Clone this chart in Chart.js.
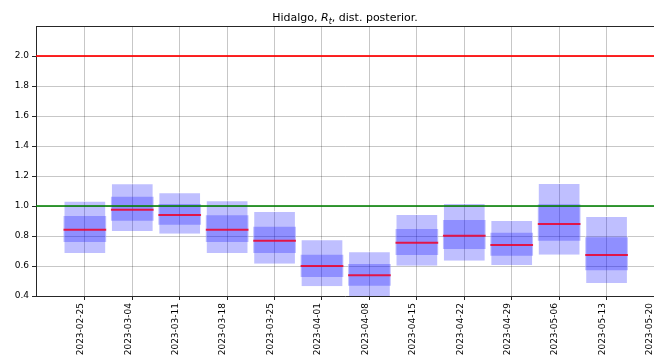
<!DOCTYPE html>
<html>
<head>
<meta charset="utf-8">
<script src="https://cdn.jsdelivr.net/npm/chart.js@4/dist/chart.umd.min.js"></script>
<style>
  html, body { margin: 0; padding: 0; background: #fff; overflow: hidden; }
  #wrap { position: relative; width: 654px; height: 356px; }
</style>
</head>
<body>
<div id="wrap"><canvas id="rt"></canvas></div>
<script>
// weekly Rt posterior summaries
const weekLabels = ['2023-02-25', '2023-03-04', '2023-03-11', '2023-03-18', '2023-03-25', '2023-04-01',
  '2023-04-08', '2023-04-15', '2023-04-22', '2023-04-29', '2023-05-06', '2023-05-13', '2023-05-20'];
const q05 = [0.687, 0.833, 0.815, 0.687, 0.615, 0.465, 0.397, 0.602, 0.635, 0.607, 0.675, 0.487];
const q25 = [0.760, 0.902, 0.875, 0.760, 0.687, 0.527, 0.468, 0.673, 0.713, 0.669, 0.769, 0.571];
const q50 = [0.842, 0.975, 0.940, 0.842, 0.769, 0.600, 0.538, 0.755, 0.802, 0.740, 0.880, 0.673];
const q75 = [0.933, 1.062, 1.013, 0.938, 0.862, 0.675, 0.613, 0.847, 0.907, 0.822, 1.011, 0.791];
const q95 = [1.035, 1.151, 1.091, 1.038, 0.967, 0.778, 0.698, 0.947, 1.020, 0.907, 1.153, 0.933];
const yTicks = [0.4, 0.6, 0.8, 1.0, 1.2, 1.4, 1.6, 1.8, 2.0];
const refRed = 2.0;
const refGreen = 1.0;

const xMin = -1.03;
const xMax = 12;
const medianHalf = 0.0065;

const font = { family: 'DejaVu Sans', size: 9 };

const boxes = (lo, hi) => lo.map((v, i) => ({ x: i, y: [v, hi[i]] }));
const hline = (v) => [{ x: xMin, y: v }, { x: xMax, y: v }];

const gridStyle = {
  offset: false,
  color: 'rgba(0,0,0,0.22)',
  borderDash: [2, 2],
  tickBorderDash: [],
  tickColor: '#262626',
  tickLength: 4,
  lineWidth: 1,
};

// title with italic R_t plus the top spine
const framePlugin = {
  id: 'frame',
  afterDraw(chart) {
    const { ctx, chartArea: a } = chart;
    ctx.save();
    ctx.strokeStyle = '#262626';
    ctx.lineWidth = 1;
    ctx.beginPath();
    ctx.moveTo(a.left, a.top + 0.5);
    ctx.lineTo(a.right, a.top + 0.5);
    ctx.stroke();

    const parts = [
      { t: 'Hidalgo, ', f: '11px "DejaVu Sans"', dy: 0 },
      { t: 'R', f: 'italic 11px "DejaVu Sans"', dy: 0 },
      { t: 't', f: 'italic 8px "DejaVu Sans"', dy: 2.5 },
      { t: ', dist. posterior.', f: '11px "DejaVu Sans"', dy: 0 },
    ];
    let w = 0;
    parts.forEach((p) => { ctx.font = p.f; p.w = ctx.measureText(p.t).width; w += p.w; });
    let x = (a.left + a.right) / 2 - w / 2;
    ctx.fillStyle = '#000';
    ctx.textBaseline = 'alphabetic';
    parts.forEach((p) => { ctx.font = p.f; ctx.fillText(p.t, x, 21 + p.dy); x += p.w; });
    ctx.restore();
  },
};

new Chart(document.getElementById('rt'), {
  type: 'bar',
  data: {
    datasets: [
      {
        type: 'line', data: hline(refRed), borderColor: 'rgba(255,0,0,0.85)', borderWidth: 2,
        pointRadius: 0, order: 0,
      },
      {
        type: 'line', data: hline(refGreen), borderColor: 'rgba(0,128,0,0.78)', borderWidth: 2,
        pointRadius: 0, order: 0,
      },
      {
        data: q50.map((v, i) => ({ x: i, y: [v - medianHalf, v + medianHalf] })),
        backgroundColor: 'rgba(240,0,40,0.85)', order: 1,
      },
      {
        data: boxes(q25, q75), backgroundColor: 'rgba(0,0,255,0.25)', order: 2,
      },
      {
        data: boxes(q05, q95), backgroundColor: 'rgba(0,0,255,0.25)',
        borderColor: 'rgba(255,255,255,0.6)', borderWidth: 1, order: 3,
      },
    ],
  },
  options: {
    responsive: true,
    maintainAspectRatio: false,
    animation: false,
    layout: { padding: { top: 26, left: 0, right: 0, bottom: 0 } },
    datasets: {
      bar: { grouped: false, barPercentage: 0.9, categoryPercentage: 1 },
    },
    plugins: {
      legend: { display: false },
      tooltip: { enabled: false },
      title: { display: false },
    },
    scales: {
      x: {
        type: 'linear',
        offset: false,
        min: xMin,
        max: xMax,
        afterBuildTicks(scale) {
          scale.ticks = weekLabels.map((_, i) => ({ value: i }));
        },
        afterFit(scale) {
          scale.height = 60;
          scale.paddingLeft = 0;
          scale.paddingRight = 0;
        },
        ticks: {
          color: '#000',
          font,
          minRotation: 90,
          maxRotation: 90,
          autoSkip: false,
          padding: 3,
          labelOffset: -4,
          callback: (v) => weekLabels[v] || '',
        },
        grid: gridStyle,
        border: { color: '#262626', width: 1 },
      },
      y: {
        min: 0.4,
        max: 2.2,
        afterBuildTicks(scale) {
          scale.ticks = yTicks.map((v) => ({ value: v }));
        },
        afterFit(scale) {
          scale.width = 36;
          scale.paddingTop = 0;
          scale.paddingBottom = 0;
        },
        ticks: {
          color: '#000',
          font,
          padding: 3,
          callback: (v) => v.toFixed(1),
        },
        grid: gridStyle,
        border: { color: '#262626', width: 1 },
      },
    },
  },
  plugins: [framePlugin],
});
</script>
</body>
</html>
